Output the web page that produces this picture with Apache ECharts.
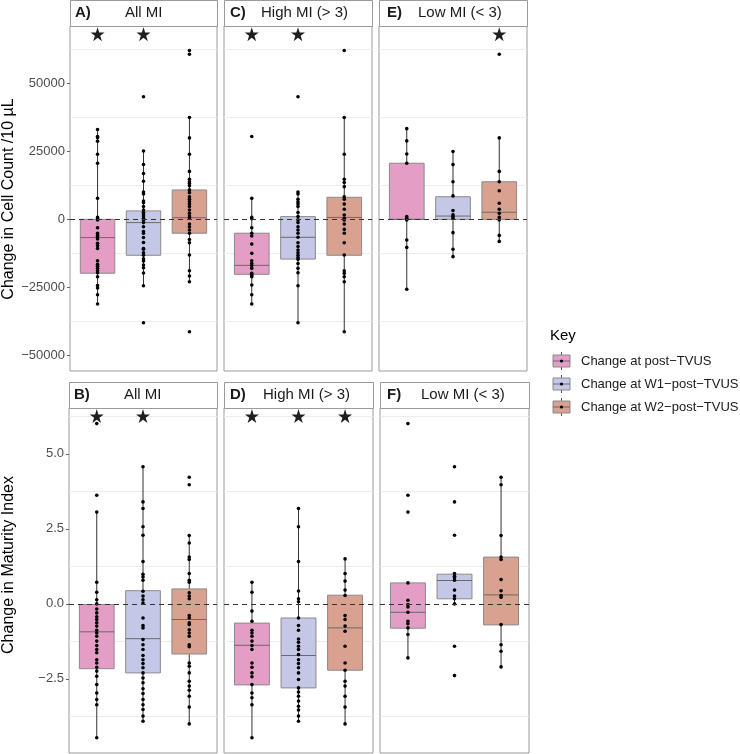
<!DOCTYPE html>
<html>
<head>
<meta charset="utf-8">
<script src="https://cdn.jsdelivr.net/npm/echarts@6/dist/echarts.min.js"></script>
<style>
  html, body { margin: 0; padding: 0; background: #fff; }
  #chart { width: 740px; height: 754px; }
</style>
</head>
<body>
<div id="chart"></div>
<script>
// groups: post-TVUS, W1-post-TVUS, W2-post-TVUS
const groupNames = ['Change at post\u2212TVUS', 'Change at W1\u2212post\u2212TVUS', 'Change at W2\u2212post\u2212TVUS']
const boxColors = ['#E49DC4', '#C5C7E7', '#D8A190']

// A) cell count, all MI
const ptsA = [
  [33000, 30400, 30000, 28700, 23900, 20600, 7700, 700, 200, -200, -3100, -5100, -5900, -6400, -7200, -8800, -9700, -10700, -15200, -16500, -17200, -18000, -18900, -19600, -21100, -24300, -25200, -27700, -31100],
  [45000, 25100, 20100, 16800, 14000, 10000, 9300, 6700, 6100, 4700, 3400, 2600, 2000, 1200, 400, -200, -1200, -2700, -4500, -5100, -6700, -8500, -10700, -11000, -12300, -13200, -14500, -15300, -16800, -17800, -19700, -24400, -38000],
  [62000, 60600, 37400, 29900, 23900, 17600, 14700, 13800, 13200, 12300, 10800, 9800, 8300, 7400, 6500, 5600, 4700, 3400, 2200, 1200, 600, -1700, -2700, -3900, -5100, -7400, -8600, -13100, -18900, -20800, -22900, -41300]
]
// [lower whisker, q1, median, q3, upper whisker]
const boxA = [[-31100, -19800, -6700, 0, 33000], [-24400, -13200, -1200, 3100, 25100], [-22900, -5100, 600, 10800, 37400]]
const starsA = [1, 2]

// C) cell count, high MI
const ptsC = [
  [30400, 7700, 700, 200, -3100, -5100, -6100, -9100, -12500, -15200, -16200, -17000, -18000, -19800, -20500, -21100, -24100, -27700, -31100],
  [45000, 10000, 9300, 7400, 6400, 5600, 4700, 2500, 1000, -200, -1200, -2700, -3900, -5100, -6600, -8600, -10000, -11300, -12300, -13200, -14000, -14700, -16200, -18000, -19600, -24400, -38000],
  [62000, 37400, 23900, 14700, 13500, 12000, 8300, 7400, 5600, 3700, 1600, 400, -200, -1700, -3700, -5100, -8600, -13100, -18900, -19800, -21100, -22900, -41300]
]
const boxC = [[-31100, -20200, -16900, -5100, 7700], [-38000, -14600, -6600, 1000, 10000], [-41300, -13200, 700, 8100, 37400]]
const starsC = [1, 2]

// E) cell count, low MI
const ptsE = [
  [33300, 28800, 24000, 20600, 1000, 400, -200, -7600, -10300, -25700],
  [24900, 20100, 13800, 8600, 3200, 1700, 1000, 400, -4900, -11000, -13700],
  [60600, 29900, 17600, 13800, 10500, 5900, 3700, 2200, 700, -200, -5900, -8100]
]
const boxE = [[-25700, 0, 0, 20600, 33300], [-13700, 0, 1200, 8300, 24900], [-8100, 0, 2600, 13800, 29900]]
const starsE = [3]

// B) maturity index, all MI
const ptsB = [
  [6.01, 3.62, 3.06, 0.72, 0.39, 0.14, 0, -0.17, -0.30, -0.43, -0.52, -0.63, -0.74, -0.88, -0.97, -1.08, -1.24, -1.39, -1.52, -1.63, -1.86, -1.97, -2.11, -2.24, -2.41, -2.69, -2.97, -3.19, -3.36, -4.46],
  [4.57, 3.40, 3.18, 2.57, 2.29, 1.41, 0.99, 0.90, 0.79, 0.42, 0.26, 0.14, 0.03, -0.47, -0.72, -0.80, -1.19, -1.36, -1.52, -1.72, -1.86, -1.99, -2.13, -2.30, -2.47, -2.63, -2.83, -2.99, -3.19, -3.36, -3.52, -3.74, -3.91],
  [4.22, 3.97, 2.28, 2.03, 1.56, 1.48, 1.01, 0.79, 0.72, 0.37, 0.26, 0.17, -0.39, -0.47, -0.63, -0.69, -0.86, -0.97, -1.08, -1.36, -1.43, -1.97, -2.08, -2.30, -2.58, -2.74, -2.88, -3.08, -3.44, -4.00]
]
const boxB = [[-4.46, -2.16, -0.93, -0.02, 3.06], [-3.91, -2.30, -1.16, 0.44, 4.57], [-4.00, -1.67, -0.52, 0.50, 2.28]]
const starsB = [1, 2]

// D) maturity index, high MI
const ptsD = [
  [0.72, 0.39, -0.24, -0.58, -0.88, -0.97, -1.08, -1.24, -1.39, -1.52, -1.97, -2.11, -2.30, -2.43, -2.69, -2.97, -3.13, -3.36, -4.46],
  [3.18, 2.57, 1.41, 0.43, 0.17, 0.07, -0.47, -0.72, -0.88, -1.17, -1.28, -1.41, -1.52, -1.69, -1.86, -1.99, -2.13, -2.30, -2.52, -2.80, -2.94, -3.08, -3.24, -3.41, -3.54, -3.74, -3.91],
  [1.50, 1.01, 0.76, 0.46, 0.28, -0.39, -0.52, -0.74, -0.91, -1.41, -1.97, -2.21, -2.58, -2.74, -3.08, -3.44, -4.00]
]
const boxD = [[-4.46, -2.70, -1.38, -0.64, 0.72], [-3.91, -2.80, -1.72, -0.47, 3.18], [-4.00, -2.21, -0.80, 0.29, 1.50]]
const starsD = [1, 2, 3]

// F) maturity index, low MI
const ptsF = [
  [6.01, 3.62, 3.06, 0.70, 0.12, -0.02, -0.10, -0.28, -0.58, -0.66, -0.80, -1.02, -1.80],
  [4.57, 3.40, 2.29, 1.01, 0.92, 0.87, 0.79, 0.46, 0.26, 0.17, 0, -1.41, -2.39],
  [4.22, 3.97, 2.28, 1.56, 1.48, 0.81, 0.44, 0.28, 0.22, -0.69, -1.36, -1.58, -2.10]
]
const boxF = [[-1.80, -0.81, -0.28, 0.70, 0.70], [0, 0.17, 0.78, 0.99, 1.01], [-2.10, -0.70, 0.30, 1.56, 4.22]]
const starsF = []

// y axis ticks / minor grid lines per row
const countTicks = [-50000, -25000, 0, 25000, 50000]
const countGrid = [62500, 37500, 12500, -12500, -37500]
const miTicks = [-2.5, 0, 2.5, 5]
const miGrid = [6.25, 3.75, 1.25, -1.25, -3.75]

const FONT = 'Liberation Sans, Arial, Helvetica, sans-serif'

const rows = [
  { top: 26, height: 345, min: -55700, max: 71000, ticks: countTicks, grid: countGrid, starY: 68000, fmt: v => String(v).replace('-', '\u2212'), title: 'Change in Cell Count /10 \u00b5L', titleY: 199 },
  { top: 408, height: 345, min: -4.97, max: 6.53, ticks: miTicks, grid: miGrid, starY: 6.26, fmt: v => v.toFixed(1).replace('-', '\u2212'), title: 'Change in Maturity Index', titleY: 565 }
]

const panels = [
  { tag: 'A)', name: 'All MI', pts: ptsA, box: boxA, stars: starsA, row: 0, left: 70, width: 147, tagX: 5, nameX: 55 },
  { tag: 'C)', name: 'High MI (> 3)', pts: ptsC, box: boxC, stars: starsC, row: 0, left: 224, width: 148, tagX: 6, nameX: 37 },
  { tag: 'E)', name: 'Low MI (< 3)', pts: ptsE, box: boxE, stars: starsE, row: 0, left: 379, width: 148, tagX: 8, nameX: 39 },
  { tag: 'B)', name: 'All MI', pts: ptsB, box: boxB, stars: starsB, row: 1, left: 69, width: 148, tagX: 5, nameX: 55 },
  { tag: 'D)', name: 'High MI (> 3)', pts: ptsD, box: boxD, stars: starsD, row: 1, left: 224, width: 149, tagX: 6, nameX: 39 },
  { tag: 'F)', name: 'Low MI (< 3)', pts: ptsF, box: boxF, stars: starsF, row: 1, left: 380, width: 149, tagX: 7, nameX: 41 }
]

function renderBox(params, api) {
  const x = api.value(0)
  const half = api.size([0.75, 0])[0] / 2
  const lo = api.coord([x, api.value(1)])
  const cx = lo[0]
  const yQ1 = api.coord([x, api.value(2)])[1]
  const yMed = api.coord([x, api.value(3)])[1]
  const yQ3 = api.coord([x, api.value(4)])[1]
  const yHi = api.coord([x, api.value(5)])[1]
  return {
    type: 'group',
    children: [
      { type: 'line', shape: { x1: cx, y1: yHi, x2: cx, y2: lo[1] }, style: { stroke: '#333', lineWidth: 1 }},
      { type: 'rect', shape: { x: cx - half, y: yQ3, width: half * 2, height: yQ1 - yQ3 }, style: { fill: boxColors[api.value(6)], stroke: '#8a8a8a', lineWidth: 1 }},
      { type: 'line', shape: { x1: cx - half, y1: yMed, x2: cx + half, y2: yMed }, style: { stroke: '#6a6a6a', lineWidth: 1 }}
    ]
  }
}

const starPath = 'path://M50,0 L61.2,34.5 L97.6,34.5 L68.2,55.9 L79.4,90.5 L50,69.1 L20.6,90.5 L31.8,55.9 L2.4,34.5 L38.8,34.5 Z'

const grid = []
const xAxis = []
const yAxis = []
const series = []
const graphic = []

panels.forEach((p, i) => {
  const r = rows[p.row]
  grid.push({ left: p.left, top: r.top, width: p.width, height: r.height, show: true, borderColor: '#9a9a9a', borderWidth: 1, backgroundColor: '#fff' })
  xAxis.push({ type: 'value', gridIndex: i, min: 0.4, max: 3.6, show: false })
  const firstCol = p.left < 100
  yAxis.push({
    type: 'value', gridIndex: i, min: r.min, max: r.max,
    axisLine: { show: false },
    splitLine: { show: false },
    axisTick: { show: firstCol, customValues: r.ticks, length: 3, lineStyle: { color: '#666' }},
    axisLabel: { show: firstCol, customValues: r.ticks, formatter: r.fmt, color: '#4d4d4d', fontSize: 13, fontFamily: FONT, margin: 5 }
  })
  // faint grid lines
  series.push({
    type: 'scatter', xAxisIndex: i, yAxisIndex: i, data: [], z: 1, silent: true,
    markLine: { silent: true, z: 1, symbol: 'none', label: { show: false }, animation: false,
      lineStyle: { color: '#ececec', type: 'solid', width: 1 },
      data: r.grid.map(v => ({ yAxis: v })) }
  })
  // boxes
  series.push({
    type: 'custom', xAxisIndex: i, yAxisIndex: i, z: 2, renderItem: renderBox,
    encode: { x: 0, y: [1, 2, 3, 4, 5] },
    data: p.box.map((b, k) => [k + 1].concat(b, [k]))
  })
  // points
  const pts = []
  p.pts.forEach((arr, k) => arr.forEach(v => pts.push([k + 1, v])))
  series.push({
    type: 'scatter', xAxisIndex: i, yAxisIndex: i, z: 3, symbolSize: 3.6,
    itemStyle: { color: '#000', opacity: 1 }, data: pts
  })
  // zero reference line + significance stars
  series.push({
    type: 'scatter', xAxisIndex: i, yAxisIndex: i, z: 4, symbol: starPath, symbolSize: 14,
    itemStyle: { color: '#1f1f1f', opacity: 1 },
    data: p.stars.map(k => [k, r.starY]),
    markLine: { silent: true, z: 5, symbol: 'none', label: { show: false }, animation: false,
      lineStyle: { color: '#333', type: [5, 4], width: 1 },
      data: [{ yAxis: 0 }] }
  })
  // facet strip
  const sTop = r.top - 26
  graphic.push({ type: 'rect', left: p.left, top: sTop, shape: { width: p.width, height: 26 }, style: { fill: '#fff', stroke: '#9a9a9a', lineWidth: 1 }})
  graphic.push({ type: 'text', x: p.left + p.tagX, y: sTop + 13, style: { text: p.tag, font: 'bold 15px ' + FONT, fill: '#1a1a1a', verticalAlign: 'middle' }})
  graphic.push({ type: 'text', x: p.left + p.nameX, y: sTop + 13, style: { text: p.name, font: '15px ' + FONT, fill: '#1a1a1a', verticalAlign: 'middle' }})
})

// y axis titles
rows.forEach(r => {
  graphic.push({ type: 'text', x: 9, y: r.titleY, rotation: Math.PI / 2,
    style: { text: r.title, font: '16px ' + FONT, fill: '#000', align: 'center', verticalAlign: 'middle' }})
})

// legend ("Key")
graphic.push({ type: 'text', x: 550, y: 336, style: { text: 'Key', font: '15px ' + FONT, fill: '#000', verticalAlign: 'middle' }})
groupNames.forEach((name, k) => {
  const cy = 361 + k * 23
  graphic.push({ type: 'line', shape: { x1: 561.5, y1: cy - 9, x2: 561.5, y2: cy + 9 }, style: { stroke: '#555', lineWidth: 1 }})
  graphic.push({ type: 'rect', shape: { x: 553, y: cy - 6, width: 17, height: 12 }, style: { fill: boxColors[k], stroke: '#8a8a8a', lineWidth: 1 }})
  graphic.push({ type: 'line', shape: { x1: 553, y1: cy, x2: 570, y2: cy }, style: { stroke: '#6a6a6a', lineWidth: 1 }})
  graphic.push({ type: 'circle', shape: { cx: 561.5, cy: cy, r: 1.6 }, style: { fill: '#000' }})
  graphic.push({ type: 'text', x: 581, y: cy, style: { text: name, font: '13px ' + FONT, fill: '#1a1a1a', verticalAlign: 'middle' }})
})

const chart = echarts.init(document.getElementById('chart'))
chart.setOption({
  animation: false,
  grid, xAxis, yAxis, series, graphic
})
</script>
</body>
</html>
